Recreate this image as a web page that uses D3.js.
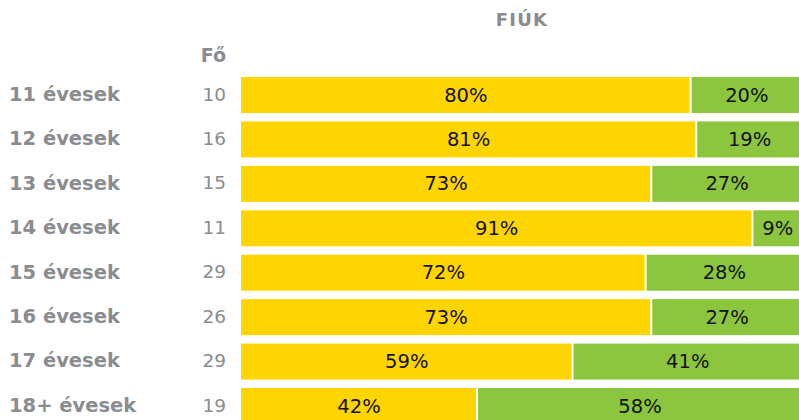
<!DOCTYPE html>
<html>
<head>
<meta charset="utf-8">
<script src="https://cdn.jsdelivr.net/npm/d3@7"></script>
<style>
  body { margin: 0; background: #fff; }
  svg { display: block; font-family: 'DejaVu Sans', sans-serif; }
</style>
</head>
<body>
<div id="chart"></div>
<script>
const width = 799;
const height = 420;
const marginLeft = 241;
const barRight = 803;
const firstBarTop = 77;
const rowStep = 44.43;
const barHeight = 36;

const gray = '#8a8c8f';
const yellow = '#ffd500';
const green = '#8cc63f';

const categories = ['11 évesek', '12 évesek', '13 évesek', '14 évesek', '15 évesek', '16 évesek', '17 évesek', '18+ évesek'];
const counts = [10, 16, 15, 11, 29, 26, 29, 19];
const yesPct = [80, 81, 73, 91, 72, 73, 59, 42];
const noPct = [20, 19, 27, 9, 28, 27, 41, 58];

const data = categories.map((c, i) => ({ name: c, n: counts[i], yes: yesPct[i], no: noPct[i] }));

const svg = d3.select('#chart')
  .append('svg')
  .attr('width', width)
  .attr('height', height);

const xScale = d3.scaleLinear()
  .domain([0, 100])
  .range([marginLeft, barRight]);

const yScale = d3.scaleBand()
  .domain(categories)
  .range([firstBarTop, firstBarTop + categories.length * rowStep - (rowStep - barHeight)])
  .paddingInner((rowStep - barHeight) / rowStep)
  .paddingOuter(0);

// title
svg.append('text')
  .attr('x', 522)
  .attr('y', 26)
  .attr('text-anchor', 'middle')
  .attr('fill', gray)
  .attr('font-weight', 'bold')
  .attr('font-size', 18)
  .attr('letter-spacing', 1.2)
  .text('FIÚK');

svg.append('text')
  .attr('x', 226)
  .attr('y', 62)
  .attr('text-anchor', 'end')
  .attr('fill', gray)
  .attr('font-weight', 'bold')
  .attr('font-size', 19)
  .text('Fő');

const rows = svg.append('g')
  .selectAll('g')
  .data(data)
  .enter()
  .append('g')
  .attr('transform', (d) => `translate(0, ${yScale(d.name)})`);

const mid = yScale.bandwidth() / 2;

rows.append('text')
  .attr('x', 9)
  .attr('y', mid)
  .attr('dy', '0.3em')
  .attr('fill', gray)
  .attr('font-weight', 'bold')
  .attr('font-size', 19.5)
  .text((d) => d.name);

rows.append('text')
  .attr('x', 226)
  .attr('y', mid)
  .attr('dy', '0.3em')
  .attr('text-anchor', 'end')
  .attr('fill', gray)
  .attr('font-size', 18.5)
  .text((d) => d.n);

// yellow segment
rows.append('rect')
  .attr('x', xScale(0))
  .attr('y', 0)
  .attr('width', (d) => xScale(d.yes) - xScale(0) - 1)
  .attr('height', yScale.bandwidth())
  .attr('fill', yellow);

// green segment
rows.append('rect')
  .attr('x', (d) => xScale(d.yes) + 1)
  .attr('y', 0)
  .attr('width', (d) => xScale(d.yes + d.no) - xScale(d.yes) - 1)
  .attr('height', yScale.bandwidth())
  .attr('fill', green);

rows.append('text')
  .attr('x', (d) => (xScale(0) + xScale(d.yes)) / 2)
  .attr('y', mid)
  .attr('dy', '0.34em')
  .attr('text-anchor', 'middle')
  .attr('fill', '#111')
  .attr('font-size', 19.5)
  .text((d) => d.yes + '%');

rows.append('text')
  .attr('x', (d) => (xScale(d.yes) + xScale(d.yes + d.no)) / 2)
  .attr('y', mid)
  .attr('dy', '0.34em')
  .attr('text-anchor', 'middle')
  .attr('fill', '#111')
  .attr('font-size', 19.5)
  .text((d) => d.no + '%');
</script>
</body>
</html>
